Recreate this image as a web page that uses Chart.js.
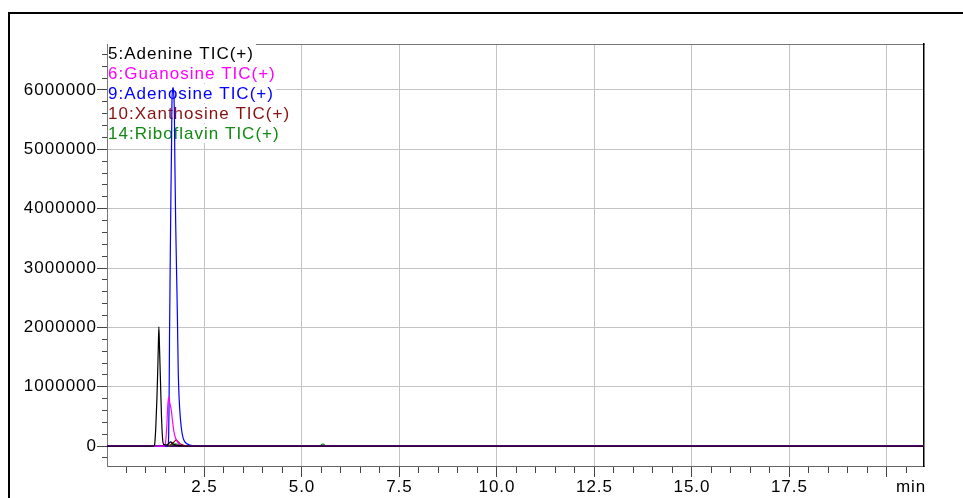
<!DOCTYPE html>
<html>
<head>
<meta charset="utf-8">
<script src="https://cdn.jsdelivr.net/npm/chart.js@4.4.1/dist/chart.umd.min.js"></script>
<style>
  html, body { margin: 0; padding: 0; background: #fff; }
  #wrap { position: relative; width: 963px; height: 498px; overflow: hidden; }
  #frame { position: absolute; left: 8px; top: 12px; width: 1000px; height: 600px; border: 2px solid #000; box-sizing: border-box; }
  #box { position: absolute; left: 0; top: 0; width: 963px; height: 498px; }
</style>
</head>
<body>
<div id="wrap">
  <div id="frame"></div>
  <div id="box"><canvas id="myChart"></canvas></div>
</div>
<script>
// legend names / colours
var seriesNames = ['5:Adenine TIC(+)', '6:Guanosine TIC(+)', '9:Adenosine TIC(+)', '10:Xanthosine TIC(+)', '14:Riboflavin TIC(+)'];
var seriesColors = ['#000000', '#ff00ff', '#0000ff', '#8b1010', '#108a10'];

// retention time (min) and intensity
var adenineTime = [0, 1.20, 1.22, 1.25, 1.28, 1.30, 1.315, 1.33, 1.345, 1.36, 1.375, 1.40, 1.43, 1.46, 1.52, 1.58, 1.63, 1.68, 1.75, 1.85, 2.0, 20.95];
var adenineTic  = [0, 0, 20000, 300000, 800000, 1250000, 1650000, 2010000, 1700000, 1350000, 1000000, 450000, 90000, 25000, 20000, 40000, 70000, 45000, 20000, 8000, 0, 0];

var guanosineTime = [0, 1.47, 1.50, 1.53, 1.56, 1.585, 1.61, 1.65, 1.68, 1.71, 1.75, 1.80, 1.86, 1.93, 2.0, 20.95];
var guanosineTic  = [0, 0, 50000, 300000, 700000, 830000, 730000, 600000, 420000, 270000, 150000, 80000, 30000, 6000, 0, 0];

var adenosineTime = [0, 1.56, 1.58, 1.59, 1.603, 1.62, 1.64, 1.654, 1.665, 1.68, 1.695, 1.71, 1.728, 1.74, 1.76, 1.785, 1.805, 1.826, 1.85, 1.885, 1.93, 1.98, 2.05, 2.15, 2.25, 20.95];
var adenosineTic  = [0, 0, 150000, 600000, 1800000, 3000000, 4300000, 5000000, 5750000, 6000000, 6040000, 5950000, 5600000, 4800000, 3800000, 2900000, 2200000, 1280000, 800000, 440000, 200000, 90000, 40000, 15000, 0, 0];

var xanthosineTime = [0, 1.55, 1.62, 1.70, 1.775, 1.83, 1.90, 2.0, 2.1, 20.95];
var xanthosineTic  = [0, 0, 20000, 60000, 100000, 70000, 30000, 8000, 0, 0];

var riboflavinTime = [0, 1.55, 1.65, 1.75, 1.85, 1.95, 2.05, 5.46, 5.51, 5.55, 5.60, 20.95];
var riboflavinTic  = [0, 0, 20000, 40000, 25000, 8000, 0, 0, 30000, 35000, 0, 0];

// tick labels
var xTickLabels = ['2.5', '5.0', '7.5', '10.0', '12.5', '15.0', '17.5'];
var xUnitLabel = 'min';
var yTickLabels = ['0', '1000000', '2000000', '3000000', '4000000', '5000000', '6000000'];

var fontName = "'Liberation Sans', Arial, sans-serif";
var unitAt = 20.62;
var yMin = -335000, yMax = 6775000, yMinor = 200000;

function pts(t, v) {
  return t.map(function (x, i) { return { x: x, y: v[i] }; });
}
var allTimes = [adenineTime, guanosineTime, adenosineTime, xanthosineTime, riboflavinTime];
var allTic = [adenineTic, guanosineTic, adenosineTic, xanthosineTic, riboflavinTic];

var datasets = seriesNames.map(function (name, i) {
  return {
    label: name,
    data: pts(allTimes[i], allTic[i]),
    borderColor: seriesColors[i],
    backgroundColor: seriesColors[i],
    borderWidth: 1.2,
    pointRadius: 0,
    fill: false,
    cubicInterpolationMode: 'monotone'
  };
});

function isMajorX(v) {
  return v > 0.01 && v <= 20.01 && Math.abs(v / 2.5 - Math.round(v / 2.5)) < 1e-6;
}
function isMajorY(v) {
  return Math.abs(v / 1000000 - Math.round(v / 1000000)) < 1e-6;
}
function tickVal(c) {
  return c.tick ? c.tick.value : NaN;
}

var spacing = {
  id: 'spacing',
  beforeLayout: function (chart) { chart.ctx.letterSpacing = '1px'; },
  beforeDraw: function (chart) { chart.ctx.letterSpacing = '1px'; }
};

// legend inside the plot, over the grid but under the traces
var tagLegend = {
  id: 'tagLegend',
  beforeDatasetsDraw: function (chart) {
    var ctx = chart.ctx, a = chart.chartArea;
    ctx.save();
    ctx.font = '17px ' + fontName;
    ctx.textBaseline = 'middle';
    ctx.textAlign = 'left';
    chart.data.datasets.forEach(function (ds, i) {
      var y = a.top + 9 + i * 20;
      var w = ctx.measureText(ds.label).width;
      ctx.fillStyle = '#fff';
      ctx.fillRect(a.left + 1, y - 9, w + 2, 19);
      ctx.fillStyle = ds.borderColor;
      ctx.fillText(ds.label, a.left + 1, y + 1);
    });
    ctx.restore();
  }
};

var ctx = document.getElementById('myChart').getContext('2d');
var chart = new Chart(ctx, {
  type: 'line',
  data: { datasets: datasets },
  plugins: [spacing, tagLegend],
  options: {
    responsive: true,
    maintainAspectRatio: false,
    animation: false,
    layout: { padding: { left: 0, right: 39, top: 44, bottom: 0 } },
    plugins: { legend: { display: false }, tooltip: { enabled: false } },
    scales: {
      x: {
        type: 'linear', position: 'bottom', min: 0, max: 20.95,
        afterFit: function (s) { s.height = 32; },
        afterBuildTicks: function (s) { s.ticks.push({ value: unitAt }); },
        ticks: {
          stepSize: 0.5, includeBounds: false, autoSkip: false, maxRotation: 0, minRotation: 0,
          padding: 0, color: '#000', font: { family: fontName, size: 17 },
          callback: function (v) {
            if (Math.abs(v - unitAt) < 1e-6) return xUnitLabel;
            for (var i = 0; i < xTickLabels.length; i++) {
              if (Math.abs(parseFloat(xTickLabels[i]) - v) < 1e-6) return xTickLabels[i];
            }
            return '';
          }
        },
        grid: {
          color: function (c) { return isMajorX(tickVal(c)) ? '#c4c4c4' : 'rgba(0,0,0,0)'; },
          lineWidth: 1,
          tickLength: 11,
          tickColor: function (c) {
            var v = tickVal(c);
            if (Math.abs(v - unitAt) < 1e-6 || v < 0.01) return 'rgba(0,0,0,0)';
            return '#444';
          },
          tickBorderDash: function (c) { return isMajorX(tickVal(c)) ? [] : [6, 100]; }
        },
        border: { color: '#666', width: 1 }
      },
      x2: {
        axis: 'x', type: 'linear', position: 'top', min: 0, max: 20.95,
        afterFit: function (s) { s.height = 0; },
        ticks: { display: false },
        grid: { display: false, drawTicks: false },
        border: { color: '#777', width: 1 }
      },
      y: {
        type: 'linear', position: 'left', min: yMin, max: yMax,
        afterFit: function (s) { s.width = 107; },
        afterBuildTicks: function (s) {
          var t = [];
          for (var v = Math.ceil(yMin / yMinor) * yMinor; v <= yMax; v += yMinor) t.push({ value: v });
          s.ticks = t;
        },
        ticks: {
          autoSkip: false, padding: 0,
          color: '#000', font: { family: fontName, size: 17 },
          callback: function (v) {
            for (var i = 0; i < yTickLabels.length; i++) {
              if (Math.abs(parseFloat(yTickLabels[i]) - v) < 1) return yTickLabels[i];
            }
            return '';
          }
        },
        grid: {
          color: function (c) { return isMajorY(tickVal(c)) ? '#c4c4c4' : 'rgba(0,0,0,0)'; },
          lineWidth: 1,
          tickLength: 10,
          tickColor: '#444',
          tickBorderDash: function (c) { return isMajorY(tickVal(c)) ? [] : [0, 5, 5, 100]; }
        },
        border: { color: '#777', width: 1 }
      },
      y2: {
        axis: 'y', type: 'linear', position: 'right', min: yMin, max: yMax, z: 1,
        afterFit: function (s) { s.width = 0; },
        afterBuildTicks: function (s) { s.ticks = [{ value: 0 }]; },
        ticks: { display: false },
        grid: {
          drawTicks: false,
          color: '#4b0a5f',
          lineWidth: 2
        },
        border: { color: '#000', width: 1.5 }
      }
    }
  }
});
</script>
</body>
</html>
